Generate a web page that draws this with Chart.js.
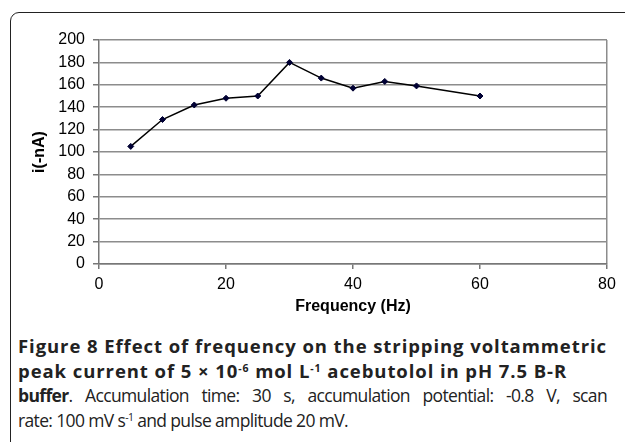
<!DOCTYPE html>
<html>
<head>
<meta charset="utf-8">
<script src="https://cdn.jsdelivr.net/npm/chart.js@4.4.0/dist/chart.umd.min.js"></script>
<style>
  html, body { margin:0; padding:0; background:#fff; width:625px; height:442px; overflow:hidden; }
  #frame { position:absolute; left:10px; top:12px; width:700px; height:500px; border:1.5px solid #222; border-top-left-radius:9px; box-sizing:border-box; }
  #wrap { position:absolute; left:0; top:0; width:625px; height:320px; }
  #caption { position:absolute; left:18px; top:334px; width:589px; font-family:"Open Sans", sans-serif; font-size:17.5px; line-height:24.5px; color:#222; }
  .ln { white-space:nowrap; }
  .ln span.t { display:inline-block; white-space:nowrap; }
  .big { font-size:18.5px; }
  sup { font-size:10.5px; line-height:0; vertical-align:6px; }
  b { font-weight:700; }
</style>
</head>
<body>
<div id="frame"></div>
<div id="wrap"><canvas id="c" width="625" height="320"></canvas></div>
<div id="caption">
  <div class="ln"><span class="t big" id="l1" data-w="589"><b>Figure 8 Effect of frequency on the stripping voltammetric</b></span></div>
  <div class="ln"><span class="t big" id="l2"><b>peak current of 5 × 10<sup>-6</sup> mol L<sup>-1</sup> acebutolol in pH 7.5 B-R</b></span></div>
  <div class="ln"><span class="t" id="l3"><b>buffer</b>. Accumulation time: 30 s, accumulation potential: -0.8 V, scan</span></div>
  <div class="ln"><span class="t" id="l4" data-w="330">rate: 100 mV s<sup>-1</sup> and pulse amplitude 20 mV.</span></div>
</div>
<script>
const frequencies = [5, 10, 15, 20, 25, 30, 35, 40, 45, 50, 60];
const currents = [105, 129, 142, 148, 150, 180, 166, 157, 163, 159, 150];
const xTitle = "Frequency (Hz)";
const yTitle = "i(-nA)";

// fit caption lines to the reference widths via letter-spacing
document.querySelectorAll('span.t[data-w]').forEach(el => {
  const target = +el.dataset.w;
  const n = el.textContent.length;
  const w = el.getBoundingClientRect().width;
  el.style.letterSpacing = ((target - w) / n) + 'px';
});
(function(){
  const l1 = document.getElementById('l1');
  const l2 = document.getElementById('l2');
  const l3 = document.getElementById('l3');
  const l4 = document.getElementById('l4');
  l2.style.letterSpacing = l1.style.letterSpacing;
  l3.style.letterSpacing = l4.style.letterSpacing;
  const w = l3.getBoundingClientRect().width;
  const gaps = (l3.textContent.match(/ /g) || []).length;
  l3.style.wordSpacing = ((589 - w) / gaps) + 'px';
})();

const points = frequencies.map((f, i) => ({ x: f, y: currents[i] }));
const tickFont = { family: 'Liberation Sans', size: 16 };
const titleFont = { family: 'Liberation Sans', size: 16, weight: 'bold' };

new Chart(document.getElementById('c'), {
  type: 'scatter',
  data: {
    datasets: [{
      data: points,
      showLine: true,
      borderColor: '#000',
      borderWidth: 1.5,
      pointStyle: 'rectRot',
      pointRadius: 3,
      pointBackgroundColor: '#000033',
      pointBorderColor: '#000033',
      pointBorderWidth: 1,
      tension: 0
    }]
  },
  options: {
    responsive: false,
    animation: false,
    layout: { padding: { left: 26, top: 40, right: 18, bottom: 0 } },
    plugins: { legend: { display: false }, tooltip: { enabled: false } },
    scales: {
      x: {
        type: 'linear', min: 0, max: 80,
        ticks: { stepSize: 20, color: '#000', font: tickFont, padding: 6 },
        grid: {
          color: ctx => (ctx.tick && ctx.tick.value === 80) ? '#8c8c8c' : 'rgba(0,0,0,0)',
          tickColor: '#777', tickLength: 5, lineWidth: 1.5
        },
        border: { display: true, color: '#777', width: 1.5 },
        title: { display: true, text: xTitle, color: '#000', font: titleFont, padding: { top: 1 } },
        afterFit: s => { s.height = 320 - 264; }
      },
      y: {
        min: 0, max: 200,
        ticks: { stepSize: 20, color: '#000', font: tickFont, padding: 8 },
        grid: { color: '#8c8c8c', lineWidth: 1.5, tickColor: '#777', tickLength: 6 },
        border: { display: true, color: '#777', width: 1.5 },
        title: { display: true, text: yTitle, color: '#000', font: titleFont, padding: { top: 4, bottom: 4 } },
        afterFit: s => { s.width = 99 - 26; }
      }
    }
  }
});
</script>
</body>
</html>
